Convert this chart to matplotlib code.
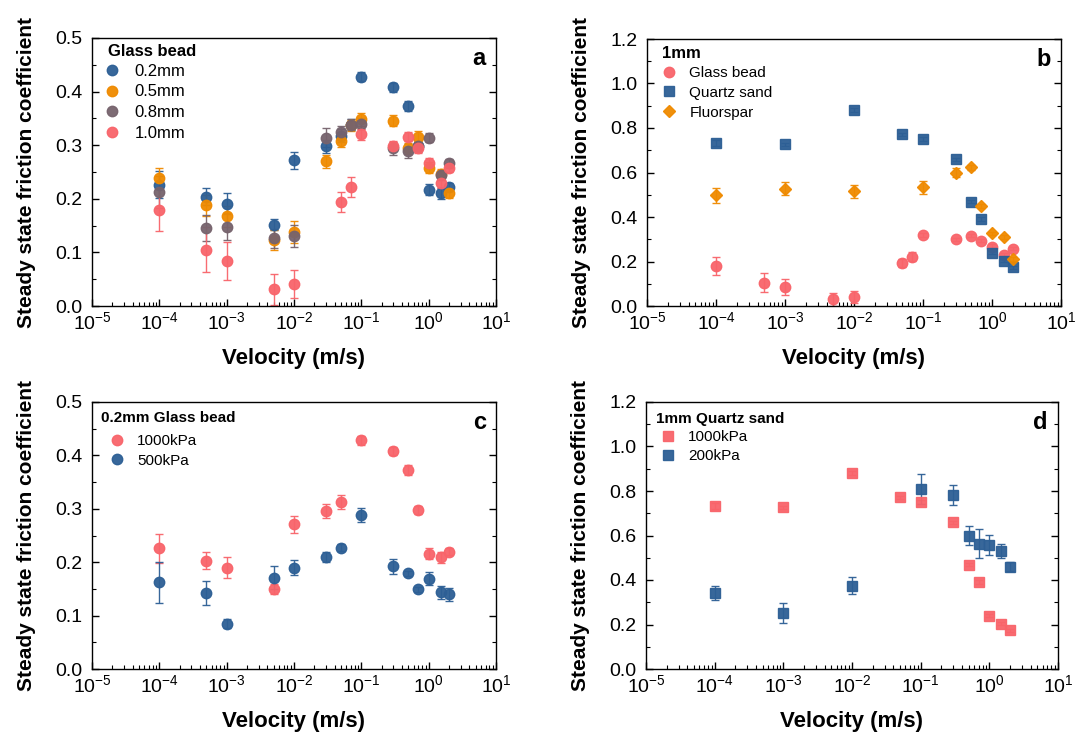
import matplotlib
matplotlib.use('Agg')
import matplotlib.pyplot as plt
from matplotlib.ticker import LogLocator, MultipleLocator, NullFormatter, FormatStrFormatter
from matplotlib.lines import Line2D
import numpy as np

plt.rcParams['font.family'] = ['Liberation Sans', 'DejaVu Sans']

# velocities (m/s)
v_a = [1e-4, 5e-4, 1e-3, 5e-3, 1e-2, 3e-2, 5e-2, 7e-2, 0.1, 0.3, 0.5, 0.7, 1.0, 1.5, 2.0]
v_gb10 = [1e-4, 5e-4, 1e-3, 5e-3, 1e-2, 5e-2, 7e-2, 0.1, 0.3, 0.5, 0.7, 1.0, 1.5, 2.0]
v_c = [1e-4, 5e-4, 1e-3, 5e-3, 1e-2, 3e-2, 5e-2, 0.1, 0.3, 0.5, 0.7, 1.0, 1.5, 2.0]
v_qs = [1e-4, 1e-3, 1e-2, 5e-2, 0.1, 0.3, 0.5, 0.7, 1.0, 1.5, 2.0]
v_fl = [1e-4, 1e-3, 1e-2, 0.1, 0.3, 0.5, 0.7, 1.0, 1.5, 2.0]
v_qs200 = [1e-4, 1e-3, 1e-2, 0.1, 0.3, 0.5, 0.7, 1.0, 1.5, 2.0]

# panel a: glass bead sizes
gb02 = [0.226, 0.204, 0.191, 0.152, 0.272, 0.298, 0.318, 0.338, 0.428, 0.408, 0.373, 0.298, 0.217, 0.210, 0.222]
gb02_err = [0.025, 0.016, 0.020, 0.010, 0.016, 0.012, 0.012, 0.010, 0.008, 0.008, 0.010, 0.008, 0.010, 0.010, 0.007]
gb05 = [0.238, 0.188, 0.167, 0.123, 0.138, 0.270, 0.308, 0.337, 0.348, 0.346, 0.294, 0.316, 0.258, 0.247, 0.210]
gb05_err = [0.019, 0.020, 0.020, 0.018, 0.020, 0.012, 0.012, 0.010, 0.012, 0.010, 0.010, 0.010, 0.010, 0.008, 0.008]
gb08 = [0.213, 0.145, 0.148, 0.126, 0.131, 0.314, 0.325, 0.338, 0.340, 0.294, 0.289, 0.298, 0.314, 0.244, 0.266]
gb08_err = [0.030, 0.024, 0.025, 0.018, 0.021, 0.018, 0.010, 0.010, 0.010, 0.012, 0.013, 0.010, 0.008, 0.008, 0.008]
gb10 = [0.180, 0.105, 0.084, 0.031, 0.041, 0.194, 0.222, 0.320, 0.299, 0.316, 0.294, 0.267, 0.229, 0.258]
gb10_err = [0.040, 0.042, 0.036, 0.029, 0.026, 0.019, 0.019, 0.010, 0.008, 0.008, 0.008, 0.010, 0.008, 0.008]

# panel b: 1mm materials
qs1000 = [0.732, 0.726, 0.882, 0.771, 0.751, 0.659, 0.469, 0.391, 0.240, 0.204, 0.174]
qs1000_err = [0.012, 0.008, 0.008, 0.008, 0.008, 0.008, 0.008, 0.008, 0.008, 0.008, 0.008]
fl = [0.497, 0.528, 0.515, 0.533, 0.600, 0.623, 0.449, 0.326, 0.310, 0.211]
fl_err = [0.035, 0.030, 0.030, 0.030, 0.020, 0.012, 0.008, 0.008, 0.008, 0.008]

# panel c: 0.2mm glass bead, 500kPa vs 1000kPa
gb02_500 = [0.162, 0.142, 0.085, 0.171, 0.190, 0.210, 0.2275, 0.289, 0.1925, 0.179, 0.149, 0.169, 0.144, 0.140]
gb02_500_err = [0.038, 0.023, 0.009, 0.021, 0.014, 0.010, 0.007, 0.013, 0.014, 0.005, 0.005, 0.012, 0.012, 0.012]
gb02_1000 = [0.226, 0.2025, 0.190, 0.150, 0.271, 0.296, 0.313, 0.428, 0.408, 0.3725, 0.298, 0.216, 0.209, 0.220]
gb02_1000_err = [0.027, 0.016, 0.019, 0.010, 0.016, 0.013, 0.013, 0.008, 0.008, 0.010, 0.008, 0.010, 0.010, 0.007]

# panel d: 1mm quartz sand, 200kPa
qs200 = [0.342, 0.251, 0.375, 0.809, 0.782, 0.600, 0.564, 0.558, 0.530, 0.459]
qs200_err = [0.033, 0.046, 0.038, 0.066, 0.047, 0.043, 0.063, 0.046, 0.033, 0.020]

blue = '#2d5f95'
orange = '#ef8a00'
gray = '#76636d'
pink = '#f8646a'

fig = plt.figure(figsize=(10.88, 7.34), dpi=100)
W, H = 1088, 734

boxes = {'a': (92, 38, 496, 306), 'b': (647, 39, 1061, 306),
         'c': (92, 402, 496, 669), 'd': (646, 402, 1058, 669)}
axs = {}
for k, (l, t, r, b) in boxes.items():
    axs[k] = fig.add_axes([l / W, 1 - b / H, (r - l) / W, (b - t) / H])

handles = {k: [] for k in axs}


def series(k, x, y, err, color, marker, label, ms=7.5):
    axs[k].errorbar(x, y, yerr=err, fmt=marker, color=color, ms=ms, mec=color,
                    ecolor=color, elinewidth=1.0, capsize=3, capthick=1.0, alpha=0.95)
    handles[k].append(Line2D([], [], ls='none', marker=marker, color=color,
                             ms=ms, alpha=0.95, label=label))


series('a', v_a, gb02, gb02_err, blue, 'o', '0.2mm')
series('a', v_a, gb05, gb05_err, orange, 'o', '0.5mm')
series('a', v_a, gb08, gb08_err, gray, 'o', '0.8mm')
series('a', v_gb10, gb10, gb10_err, pink, 'o', '1.0mm')

series('b', v_gb10, gb10, gb10_err, pink, 'o', 'Glass bead')
series('b', v_qs, qs1000, qs1000_err, blue, 's', 'Quartz sand', ms=6.5)
series('b', v_fl, fl, fl_err, orange, 'D', 'Fluorspar', ms=6.5)

series('c', v_c, gb02_1000, gb02_1000_err, pink, 'o', '1000kPa')
series('c', v_c, gb02_500, gb02_500_err, blue, 'o', '500kPa')

series('d', v_qs, qs1000, qs1000_err, pink, 's', '1000kPa', ms=6.5)
series('d', v_qs200, qs200, qs200_err, blue, 's', '200kPa', ms=6.5)

titles = {'a': 'Glass bead', 'b': '1mm', 'c': '0.2mm Glass bead', 'd': '1mm Quartz sand'}
title_size = {'a': 12, 'b': 12, 'c': 11, 'd': 11}
leg_size = {'a': 12, 'b': 11, 'c': 11, 'd': 11}
leg_space = {'a': 0.33, 'b': 0.38, 'c': 0.38, 'd': 0.35}
# legend title placement (px from axes left / top)
title_pos = {'a': (16, 14), 'b': (15, 15), 'c': (9, 16), 'd': (10, 17)}
# legend box placement (px from axes left / top)
leg_pos = {'a': (12, 26), 'b': (14, 27), 'c': (17, 32), 'd': (14, 28)}

for k, ax in axs.items():
    l, t, r, b = boxes[k]
    w, h = r - l, b - t
    ax.set_xscale('log')
    ax.set_xlim(1e-5, 1e1)
    ax.xaxis.set_major_locator(LogLocator(base=10, numticks=10))
    ax.xaxis.set_minor_locator(LogLocator(base=10, subs=np.arange(2, 10), numticks=10))
    ax.xaxis.set_minor_formatter(NullFormatter())
    if k in ('a', 'c'):
        ax.set_ylim(0, 0.5)
        ax.yaxis.set_major_locator(MultipleLocator(0.1))
        ax.yaxis.set_minor_locator(MultipleLocator(0.05))
    else:
        ax.set_ylim(0, 1.2)
        ax.yaxis.set_major_locator(MultipleLocator(0.2))
        ax.yaxis.set_minor_locator(MultipleLocator(0.1))
    ax.yaxis.set_major_formatter(FormatStrFormatter('%.1f'))
    ax.tick_params(which='both', direction='in', right=True, top=False, labelsize=14)
    ax.tick_params(axis='y', which='major', pad=7)
    ax.tick_params(which='major', length=5, width=1)
    ax.tick_params(which='minor', length=3, width=0.8)
    for s in ax.spines.values():
        s.set_linewidth(1.0)
    ax.set_xlabel('Velocity (m/s)', fontsize=16, fontweight='bold', labelpad=11)
    ax.set_ylabel('Steady state friction coefficient', fontsize=15, fontweight='bold', labelpad=14)

    tx, ty = title_pos[k]
    ax.text(tx / w, 1 - ty / h, titles[k], transform=ax.transAxes, ha='left', va='center',
            fontsize=title_size[k], fontweight='bold')
    lx, ly = leg_pos[k]
    ax.legend(handles=handles[k], loc='upper left', bbox_to_anchor=(lx / w, 1 - ly / h),
              frameon=False, fontsize=leg_size[k], handletextpad=0.85, handlelength=1.0,
              borderaxespad=0, borderpad=0, labelspacing=leg_space[k])
    ax.text(0.975, 0.925, k, transform=ax.transAxes, ha='right', va='center',
            fontsize=17, fontweight='bold')

fig.savefig('out.png', dpi=100)
